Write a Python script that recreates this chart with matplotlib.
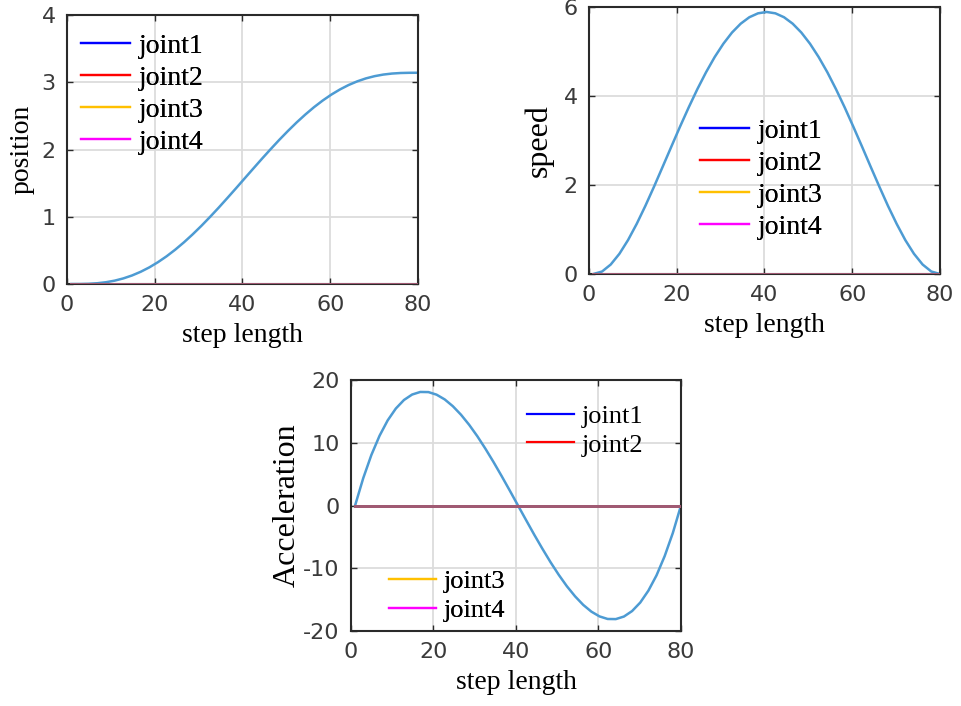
import numpy as np
import matplotlib.pyplot as plt
from matplotlib.lines import Line2D

plt.rcParams['axes.unicode_minus'] = False

# step index of the sampled points
steps = [1, 2.98, 4.95, 6.93, 8.9, 10.88, 12.85, 14.83, 16.8, 18.78, 20.75,
         22.73, 24.7, 26.68, 28.65, 30.63, 32.6, 34.58, 36.55, 38.53, 40.5,
         42.48, 44.45, 46.43, 48.4, 50.38, 52.35, 54.33, 56.3, 58.28, 60.25,
         62.23, 64.2, 66.18, 68.15, 70.13, 72.1, 74.08, 76.05, 78.03, 80]

position = [0.0, 0.0005, 0.0036, 0.0118, 0.0269, 0.0504, 0.0836, 0.1273, 0.1820, 0.2479, 0.3252,
            0.4135, 0.5123, 0.6211, 0.7388, 0.8646, 0.9973, 1.1356, 1.2782, 1.4238, 1.5708,
            1.7178, 1.8634, 2.0060, 2.1443, 2.2770, 2.4028, 2.5205, 2.6293, 2.7281, 2.8164,
            2.8937, 2.9596, 3.0143, 3.0580, 3.0912, 3.1147, 3.1298, 3.1380, 3.1411, 3.1416]
speed = [0.0, 0.056, 0.213, 0.454, 0.763, 1.128, 1.532, 1.965, 2.413, 2.866, 3.313,
         3.746, 4.156, 4.536, 4.878, 5.177, 5.429, 5.628, 5.773, 5.861, 5.891,
         5.861, 5.773, 5.628, 5.429, 5.177, 4.878, 4.536, 4.156, 3.746, 3.313,
         2.866, 2.413, 1.965, 1.532, 1.128, 0.763, 0.454, 0.213, 0.056, 0.0]
accel = [0.0, 4.37, 8.06, 11.12, 13.57, 15.46, 16.82, 17.69, 18.10, 18.08, 17.67,
         16.91, 15.83, 14.47, 12.87, 11.05, 9.05, 6.91, 4.67, 2.35, 0.0,
         -2.35, -4.67, -6.91, -9.05, -11.05, -12.87, -14.47, -15.83, -16.91, -17.67,
         -18.08, -18.10, -17.69, -16.82, -15.46, -13.57, -11.12, -8.06, -4.37, 0.0]

joints = ['joint1', 'joint2', 'joint3', 'joint4']
joint_colors = ['#0000ff', '#ff0000', '#ffc000', '#ff00ff']
joint_vals = [0.0] * len(steps)   # all four joints stay at zero

curve_col = '#4d9bd3'
zero_col = '#a05a73'
tick_col = '#3a3a3a'
serif = ['Liberation Serif', 'DejaVu Serif']

fig = plt.figure(figsize=(9.61, 7.06), dpi=100)
ax1 = fig.add_axes([0.0697, 0.5977, 0.3652, 0.381])
ax2 = fig.add_axes([0.6129, 0.6119, 0.3652, 0.378])
ax3 = fig.add_axes([0.3652, 0.1062, 0.3434, 0.3555])


def style(ax, ylim, yticks, ylabel, ysize, ylpad):
    ax.set_xlim(0, 80)
    ax.set_ylim(*ylim)
    ax.set_xticks([0, 20, 40, 60, 80])
    ax.set_yticks(yticks)
    ax.grid(True, color='#dcdcdc', lw=1.3)
    ax.set_axisbelow(True)
    for sp in ax.spines.values():
        sp.set_color('#2a2a2a')
        sp.set_linewidth(1.5)
    ax.tick_params(direction='in', length=4, width=1, colors='#2a2a2a',
                   labelcolor=tick_col, labelsize=16, pad=8, top=True, right=True)
    ax.set_xlabel('step length', family=serif, fontsize=20, labelpad=6)
    ax.set_ylabel(ylabel, family=serif, fontsize=ysize, labelpad=ylpad)


def draw(ax, vals):
    for j in joints:
        ax.plot(steps, joint_vals, color=zero_col, lw=2, zorder=3)
    ax.plot(steps, vals, color=curve_col, lw=1.8, zorder=2)


def add_legend(ax, names, cols, anchor, fs=20, sp=0.24):
    handles = [Line2D([], [], color=c, lw=1.6) for c in cols]
    leg = ax.legend(handles, names, loc='center left', bbox_to_anchor=anchor,
                    frameon=False, borderpad=0, borderaxespad=0,
                    handlelength=1.77, handletextpad=0.3, labelspacing=sp,
                    prop={'family': serif, 'size': fs})
    ax.add_artist(leg)
    return leg


draw(ax1, position)
style(ax1, (0, 4), [0, 1, 2, 3, 4], 'position', 20, 5)
add_legend(ax1, joints, joint_colors, (0.04, 0.706))

draw(ax2, speed)
style(ax2, (0, 6), [0, 2, 4, 6], 'speed', 23, 7)
add_legend(ax2, joints, joint_colors, (0.316, 0.356))

draw(ax3, accel)
style(ax3, (-20, 20), [-20, -10, 0, 10, 20], 'Acceleration', 23, 1)
add_legend(ax3, joints[:2], joint_colors[:2], (0.533, 0.799), fs=19, sp=0.2)
add_legend(ax3, joints[2:], joint_colors[2:], (0.115, 0.141), fs=19, sp=0.2)

fig.savefig('out.png', dpi=100)
